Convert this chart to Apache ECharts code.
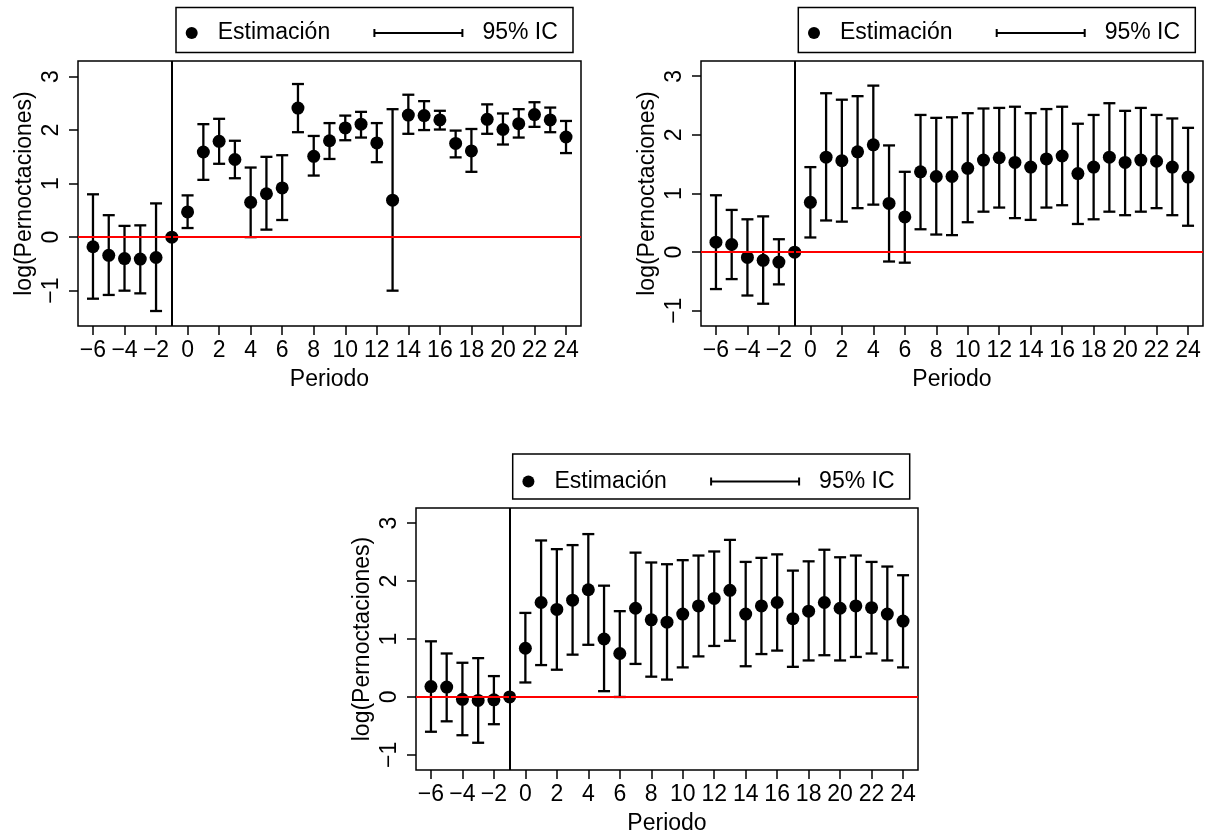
<!DOCTYPE html>
<html>
<head>
<meta charset="utf-8">
<script src="https://cdn.jsdelivr.net/npm/echarts@6/dist/echarts.min.js"></script>
<style>
  html, body { margin: 0; padding: 0; background: #fff; }
  #chart { width: 1207px; height: 836px; }
</style>
</head>
<body>
<div id="chart"></div>
<script>
var myChart = echarts.init(document.getElementById('chart'));

// periodos y estimaciones (periodo -1 = referencia, sin intervalo)
var periods = [-6, -5, -4, -3, -2, -1, 0, 1, 2, 3, 4, 5, 6, 7, 8, 9, 10, 11, 12, 13, 14, 15, 16, 17, 18, 19, 20, 21, 22, 23, 24];

var est1 = [-0.18, -0.34, -0.40, -0.41, -0.38, 0, 0.47, 1.59, 1.79, 1.45, 0.65, 0.81, 0.92, 2.41, 1.51, 1.80, 2.04, 2.11, 1.76, 0.69, 2.28, 2.27, 2.19, 1.75, 1.61, 2.20, 2.01, 2.12, 2.29, 2.19, 1.87];
var lo1 = [-1.15, -1.08, -1.00, -1.05, -1.38, null, 0.17, 1.07, 1.37, 1.10, 0.00, 0.14, 0.32, 1.96, 1.15, 1.46, 1.81, 1.86, 1.40, -1.00, 1.93, 2.00, 2.01, 1.49, 1.22, 1.93, 1.73, 1.86, 2.06, 1.96, 1.57];
var hi1 = [0.80, 0.41, 0.21, 0.22, 0.63, null, 0.78, 2.11, 2.21, 1.80, 1.30, 1.50, 1.53, 2.86, 1.89, 2.13, 2.27, 2.34, 2.13, 2.39, 2.66, 2.54, 2.36, 1.99, 2.02, 2.48, 2.31, 2.39, 2.52, 2.42, 2.17];

var est2 = [0.17, 0.13, -0.09, -0.14, -0.17, 0, 0.85, 1.62, 1.56, 1.71, 1.83, 0.83, 0.60, 1.37, 1.29, 1.29, 1.43, 1.57, 1.61, 1.53, 1.45, 1.59, 1.64, 1.34, 1.45, 1.62, 1.53, 1.57, 1.55, 1.45, 1.28];
var lo2 = [-0.63, -0.46, -0.74, -0.88, -0.55, null, 0.25, 0.54, 0.52, 0.75, 0.81, -0.16, -0.18, 0.39, 0.30, 0.29, 0.51, 0.69, 0.76, 0.58, 0.55, 0.76, 0.80, 0.48, 0.56, 0.69, 0.63, 0.69, 0.75, 0.63, 0.45];
var hi2 = [0.97, 0.72, 0.56, 0.61, 0.22, null, 1.45, 2.71, 2.60, 2.66, 2.84, 1.82, 1.37, 2.34, 2.29, 2.30, 2.37, 2.45, 2.46, 2.48, 2.37, 2.44, 2.48, 2.19, 2.34, 2.54, 2.41, 2.46, 2.34, 2.28, 2.12];

var est3 = [0.18, 0.17, -0.04, -0.06, -0.05, 0, 0.84, 1.63, 1.51, 1.67, 1.85, 1.00, 0.75, 1.53, 1.33, 1.29, 1.43, 1.57, 1.70, 1.84, 1.43, 1.57, 1.63, 1.35, 1.48, 1.63, 1.53, 1.57, 1.54, 1.43, 1.31];
var lo3 = [-0.60, -0.42, -0.66, -0.79, -0.47, null, 0.25, 0.55, 0.47, 0.73, 0.90, 0.10, 0.00, 0.57, 0.35, 0.30, 0.51, 0.70, 0.88, 0.97, 0.53, 0.74, 0.80, 0.52, 0.63, 0.72, 0.63, 0.69, 0.75, 0.63, 0.51];
var hi3 = [0.96, 0.75, 0.59, 0.67, 0.36, null, 1.45, 2.70, 2.55, 2.62, 2.81, 1.92, 1.48, 2.49, 2.32, 2.29, 2.36, 2.44, 2.51, 2.71, 2.33, 2.40, 2.46, 2.18, 2.34, 2.54, 2.41, 2.44, 2.33, 2.25, 2.10];

var xTicks = [-6, -4, -2, 0, 2, 4, 6, 8, 10, 12, 14, 16, 18, 20, 22, 24];
var yTicks = [-1, 0, 1, 2, 3];

var font = 'Liberation Sans, Arial, Helvetica, sans-serif';
var fontSize = 23;

// paneles: posición de cada gráfico y rango del eje y
var panels = [
    { est: est1, lo: lo1, hi: hi1, left: 78, top: 61, width: 503, ymin: -1.66, ymax: 3.29 },
    { est: est2, lo: lo2, hi: hi2, left: 701, top: 61, width: 502, ymin: -1.26, ymax: 3.26 },
    { est: est3, lo: lo3, hi: hi3, left: 416, top: 508, width: 502, ymin: -1.26, ymax: 3.26 }
];

function minus(v) {
    return v < 0 ? '\u2212' + Math.abs(v) : String(v);
}

function renderBar(params, api) {
    var x = api.value(0);
    var top = api.coord([x, api.value(2)]);
    var bot = api.coord([x, api.value(1)]);
    var w = 6;
    var style = { stroke: '#000', lineWidth: 2.3 };
    return {
        type: 'group',
        children: [
            { type: 'line', shape: { x1: top[0], y1: top[1], x2: bot[0], y2: bot[1] }, style: style },
            { type: 'line', shape: { x1: top[0] - w, y1: top[1], x2: top[0] + w, y2: top[1] }, style: style },
            { type: 'line', shape: { x1: bot[0] - w, y1: bot[1], x2: bot[0] + w, y2: bot[1] }, style: style }
        ]
    };
}

var grid = [], xAxis = [], yAxis = [], series = [];

panels.forEach(function (p, i) {
    grid.push({
        show: true,
        left: p.left,
        top: p.top,
        width: p.width,
        height: 265,
        borderColor: '#000',
        borderWidth: 1.5,
        backgroundColor: 'transparent'
    });
    xAxis.push({
        type: 'value',
        gridIndex: i,
        min: -6.95,
        max: 24.95,
        name: 'Periodo',
        nameLocation: 'middle',
        nameGap: 42,
        nameTextStyle: { color: '#000', fontFamily: font, fontSize: fontSize },
        axisLine: { show: false, onZero: false },
        axisTick: { show: true, length: 9, customValues: xTicks, lineStyle: { color: '#000', width: 1.5 } },
        axisLabel: { color: '#000', fontFamily: font, fontSize: fontSize, margin: 13, customValues: xTicks, formatter: minus },
        splitLine: { show: false }
    });
    yAxis.push({
        type: 'value',
        gridIndex: i,
        min: p.ymin,
        max: p.ymax,
        name: 'log(Pernoctaciones)',
        nameLocation: 'middle',
        nameGap: 42,
        nameTextStyle: { color: '#000', fontFamily: font, fontSize: fontSize },
        axisLine: { show: false, onZero: false },
        axisTick: { show: true, length: 9, customValues: yTicks, lineStyle: { color: '#000', width: 1.5 } },
        axisLabel: { color: '#000', fontFamily: font, fontSize: fontSize, margin: 15, rotate: 90, customValues: yTicks, formatter: minus },
        splitLine: { show: false }
    });

    var bars = [];
    var points = [];
    periods.forEach(function (t, k) {
        points.push([t, p.est[k]]);
        if (p.lo[k] != null) bars.push([t, p.lo[k], p.hi[k]]);
    });

    series.push({
        name: '95% IC',
        type: 'custom',
        xAxisIndex: i,
        yAxisIndex: i,
        z: 2,
        itemStyle: { color: '#000' },
        renderItem: renderBar,
        encode: { x: 0, y: [1, 2] },
        data: bars,
        markLine: {
            silent: true,
            symbol: 'none',
            label: { show: false },
            data: [
                { yAxis: 0, lineStyle: { color: '#ff0000', width: 2, type: 'solid' } },
                { xAxis: -1, lineStyle: { color: '#000', width: 2, type: 'solid' } }
            ]
        }
    });
    series.push({
        name: 'Estimación',
        type: 'scatter',
        xAxisIndex: i,
        yAxisIndex: i,
        z: 3,
        symbol: 'circle',
        symbolSize: 13,
        itemStyle: { color: '#000', opacity: 1 },
        data: points
    });
});

// leyendas: recuadro + dos entradas por panel
var boxes = [
    { x: 176, y: 7.5, cy: 31.5 },
    { x: 798.3, y: 7.5, cy: 31.5 },
    { x: 512.7, y: 454, cy: 480 }
];
var legend = [];
var graphic = [];
boxes.forEach(function (b) {
    graphic.push({
        type: 'rect',
        shape: { x: b.x, y: b.y, width: 397, height: 45 },
        style: { fill: 'none', stroke: '#000', lineWidth: 1.5 },
        silent: true
    });
    legend.push({
        left: b.x + 9.7,
        top: b.cy - 10,
        padding: 0,
        itemWidth: 12,
        itemHeight: 12,
        selectedMode: false,
        itemStyle: { opacity: 1 },
        textStyle: { color: '#000', fontFamily: font, fontSize: fontSize, padding: [0, 0, 0, 15] },
        data: [{ name: 'Estimación', icon: 'circle' }]
    });
    legend.push({
        left: b.x + 197.4,
        top: b.cy - 10,
        padding: 0,
        itemWidth: 90,
        itemHeight: 8,
        selectedMode: false,
        textStyle: { color: '#000', fontFamily: font, fontSize: fontSize, padding: [0, 0, 0, 14] },
        data: [{ name: '95% IC', icon: 'path://M0,0h2v8h-2z M0,3h90v2h-90z M88,0h2v8h-2z' }]
    });
});

var option = {
    backgroundColor: '#fff',
    animation: false,
    grid: grid,
    xAxis: xAxis,
    yAxis: yAxis,
    legend: legend,
    graphic: graphic,
    series: series
};

myChart.setOption(option);
</script>
</body>
</html>
